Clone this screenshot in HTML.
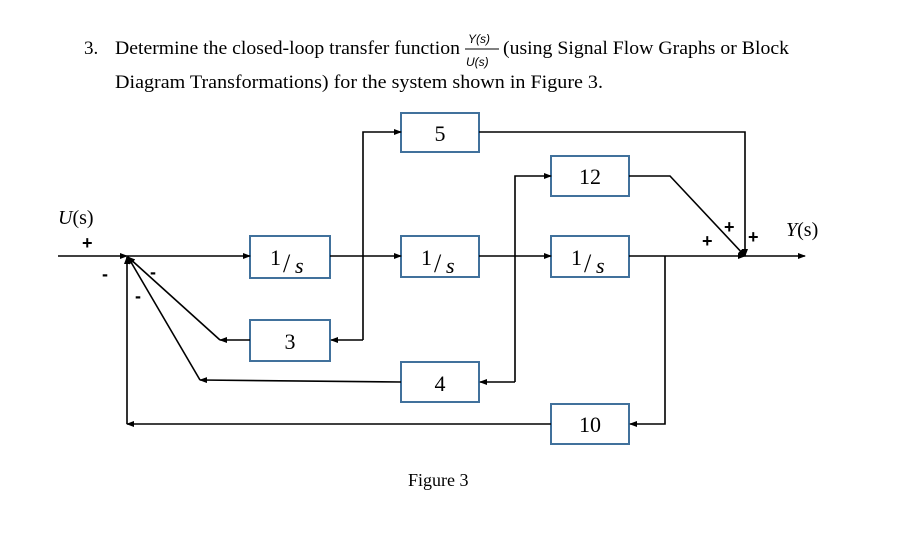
<!DOCTYPE html>
<html><head><style>body{margin:0;background:#fff}svg{display:block}</style></head><body>
<svg width="904" height="539" viewBox="0 0 904 539" xmlns="http://www.w3.org/2000/svg" font-family="Liberation Serif, serif">
<defs><marker id="a" markerWidth="8" markerHeight="6" refX="7" refY="3" orient="auto" markerUnits="userSpaceOnUse"><path d="M0,0 L8,3 L0,6 z" fill="#000"/></marker></defs>
<g font-size="19" fill="#000">
<text x="84" y="54">3.</text>
<text x="115" y="54" textLength="345" lengthAdjust="spacingAndGlyphs">Determine the closed-loop transfer function</text>
<text x="468" y="43" font-size="12" font-style="italic" font-family="Liberation Sans, sans-serif">Y(s)</text>
<line x1="465" y1="49" x2="499" y2="49" stroke="#000" stroke-width="1"/>
<text x="466" y="66" font-size="12" font-style="italic" font-family="Liberation Sans, sans-serif">U(s)</text>
<text x="503" y="54" textLength="286" lengthAdjust="spacingAndGlyphs">(using Signal Flow Graphs or Block</text>
<text x="115" y="88" textLength="488" lengthAdjust="spacingAndGlyphs">Diagram Transformations) for the system shown in Figure 3.</text>
<text x="408" y="486" font-size="18">Figure 3</text>
<text x="58" y="224" font-size="20"><tspan font-style="italic">U</tspan>(s)</text>
<text x="786" y="236" font-size="20"><tspan font-style="italic">Y</tspan>(s)</text>
</g>
<g font-family="Liberation Sans, sans-serif" font-weight="bold" font-size="18">
<text x="82" y="249">+</text><text x="102" y="280">-</text><text x="150" y="278">-</text><text x="135" y="302">-</text>
<text x="702" y="247">+</text><text x="724" y="233">+</text><text x="748" y="243">+</text>
</g>
<g fill="#fff" stroke="#41719c" stroke-width="2">
<rect x="250" y="236" width="80" height="42"/><rect x="401" y="113" width="78" height="39"/>
<rect x="401" y="236" width="78" height="41"/><rect x="551" y="156" width="78" height="40"/>
<rect x="551" y="236" width="78" height="41"/><rect x="250" y="320" width="80" height="41"/>
<rect x="401" y="362" width="78" height="40"/><rect x="551" y="404" width="78" height="40"/>
</g>
<g font-size="22" text-anchor="middle">
<text x="440" y="141">5</text><text x="590" y="184">12</text><text x="290" y="349">3</text><text x="440" y="391">4</text><text x="590" y="432">10</text>
</g>
<g font-size="22"><text x="270" y="265">1</text><text x="283" y="272" font-size="26">/</text><text x="295" y="273" font-style="italic">s</text>
<text x="421" y="265">1</text><text x="434" y="272" font-size="26">/</text><text x="446" y="273" font-style="italic">s</text>
<text x="571" y="265">1</text><text x="584" y="272" font-size="26">/</text><text x="596" y="273" font-style="italic">s</text></g>
<g stroke="#000" stroke-width="1.6" fill="none">
<line x1="58" y1="256" x2="127" y2="256" marker-end="url(#a)"/>
<line x1="127" y1="256" x2="250" y2="256" marker-end="url(#a)"/>
<line x1="330" y1="256" x2="401" y2="256" marker-end="url(#a)"/>
<line x1="479" y1="256" x2="551" y2="256" marker-end="url(#a)"/>
<line x1="629" y1="256" x2="745" y2="256" marker-end="url(#a)"/>
<line x1="745" y1="256" x2="805" y2="256" marker-end="url(#a)"/>
<polyline points="363,340 363,132 401,132" marker-end="url(#a)"/>
<line x1="363" y1="340" x2="331" y2="340" marker-end="url(#a)"/>
<polyline points="515,382 515,176 551,176" marker-end="url(#a)"/>
<line x1="515" y1="382" x2="480" y2="382" marker-end="url(#a)"/>
<polyline points="665,256 665,424 630,424" marker-end="url(#a)"/>
<polyline points="479,132 745,132 745,256" marker-end="url(#a)"/>
<polyline points="629,176 670,176 745,256" marker-end="url(#a)"/>
<line x1="551" y1="424" x2="127" y2="424" marker-end="url(#a)"/>
<line x1="127" y1="424" x2="127" y2="257" marker-end="url(#a)"/>
<line x1="401" y1="382" x2="200" y2="380" marker-end="url(#a)"/>
<line x1="200" y1="380" x2="128" y2="257" marker-end="url(#a)"/>
<line x1="250" y1="340" x2="220" y2="340" marker-end="url(#a)"/>
<line x1="220" y1="340" x2="128" y2="257" marker-end="url(#a)"/>
</g>
</svg>
</body></html>
